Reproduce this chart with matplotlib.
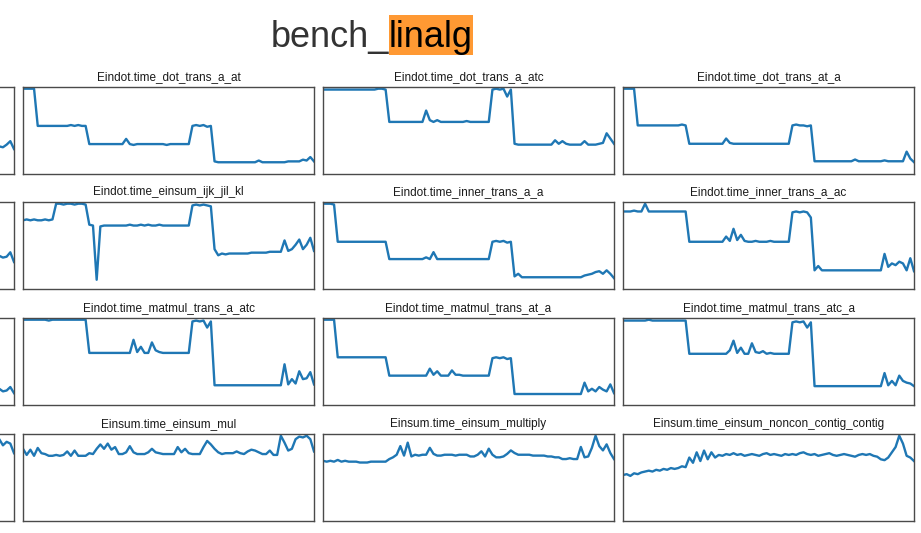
import numpy as np
import matplotlib
matplotlib.use("Agg")
import matplotlib.pyplot as plt
from matplotlib.patches import Rectangle

plt.rcParams['font.family'] = ['Liberation Sans', 'DejaVu Sans']

W, H = 921, 533

# benchmark names, row by row; the first column is cut off by the page edge,
# its titles are off-page and not drawn
names = [
    ["", "Eindot.time_dot_trans_a_at",
     "Eindot.time_dot_trans_a_atc", "Eindot.time_dot_trans_at_a"],
    ["", "Eindot.time_einsum_ijk_jil_kl",
     "Eindot.time_inner_trans_a_a", "Eindot.time_inner_trans_a_ac"],
    ["", "Eindot.time_matmul_trans_a_atc",
     "Eindot.time_matmul_trans_at_a", "Eindot.time_matmul_trans_atc_a"],
    ["", "Einsum.time_einsum_mul",
     "Einsum.time_einsum_multiply", "Einsum.time_einsum_noncon_contig_contig"],
]

# relative timings (% of slowest run), one value per commit
dot_d_dot_b_c = [97, 97, 97, 97, 55, 55, 56, 55, 55, 55, 55, 56, 55, 55, 55, 55, 55, 55,
                 34, 34, 34, 34, 34, 34, 34, 34, 34, 34, 39, 34, 34, 34, 34, 34, 34, 34, 34, 34,
                 34, 34, 34, 34, 34, 34, 34, 34,
                 55, 56, 55, 56, 54, 55,
                 28, 28, 28, 28, 28, 28, 28, 28, 28, 29, 28, 28, 28, 28, 28, 28, 28, 28, 28, 29,
                 28, 29, 30, 31, 30, 33, 37, 28]
dot_trans_a_at = [98, 98, 98, 98,
                  55, 55, 55, 55, 55, 55, 55, 55, 55, 56, 55, 56, 55, 55,
                  34, 34, 34, 34, 34, 34, 34, 34, 34, 34, 40, 34, 33, 34, 34, 34, 34, 34, 34, 34,
                  34, 33, 34, 34, 34, 34, 34, 34,
                  55, 56, 55, 56, 54, 55,
                  14, 13, 13, 13, 13, 13, 13, 13, 13, 13, 13, 13, 15, 13, 13, 13, 13, 13, 13, 13,
                  14, 14, 14, 14, 16, 15, 19, 14]
dot_trans_a_atc = [96, 96, 96, 96, 96, 96, 96, 96, 96, 96, 96, 96, 96, 96, 96, 97, 97, 96,
                   59, 59, 59, 59, 59, 59, 59, 59, 59, 59, 72, 61, 59, 61, 59, 59, 59, 59, 59, 59,
                   59, 60, 59, 59, 59, 59, 59, 59,
                   96, 97, 96, 97, 88, 96,
                   34, 33, 33, 33, 33, 33, 33, 33, 33, 33, 33, 38, 34, 37, 34, 33, 33, 33, 33, 37,
                   33, 33, 33, 34, 35, 46, 40, 34]
dot_trans_at_a = [97, 97, 97, 97,
                  55, 55, 55, 55, 55, 55, 55, 55, 55, 55, 55, 55, 56, 55,
                  34, 34, 34, 34, 34, 34, 34, 34, 34, 34, 40, 35, 34, 34, 34, 34, 34, 34, 34, 34,
                  34, 34, 34, 34, 34, 34, 34, 34,
                  55, 56, 55, 55, 54, 55,
                  14, 14, 14, 14, 14, 14, 14, 14, 14, 14, 14, 16, 14, 14, 14, 14, 14, 14, 14, 15,
                  14, 14, 14, 14, 14, 25, 17, 13]

einsum_ij_jk_a_b = [90, 90, 91, 90, 90, 90, 90, 91, 90, 90, 90, 90, 90, 91, 90, 90, 90, 90,
                    61, 61, 61, 61, 61, 61, 61, 62, 61, 61, 61, 61, 61, 61, 61, 61, 61, 61, 61, 62,
                    61, 61, 61, 61, 61, 61, 61, 61,
                    95, 96, 95, 96, 95, 95,
                    36, 35, 35, 35, 35, 35, 35, 35, 35, 35, 35, 35, 35, 35, 35, 35, 35, 36, 35, 35,
                    36, 35, 36, 37, 35, 36, 41, 30]
einsum_ijk_jil_kl = [78, 79, 78, 79, 78, 78, 79, 78, 79,
                     97, 97, 96, 97, 97, 96, 97, 97, 96,
                     73, 72, 10,
                     71, 72, 72, 72, 72, 72, 72, 72, 73, 72, 72, 73, 72, 73, 72, 72, 73, 72, 72,
                     72, 72, 72, 72, 72, 72,
                     95, 96, 95, 96, 95, 94,
                     45, 38, 40, 39, 40, 40, 40, 40, 40, 40, 41, 41, 41, 41, 41, 42, 42, 42, 42, 55,
                     43, 45, 50, 56, 45, 50, 58, 43]
inner_trans_a_a = [98, 98, 98, 97,
                   54, 54, 54, 54, 54, 54, 54, 54, 54, 54, 54, 54, 54, 54,
                   34, 34, 34, 34, 34, 34, 34, 34, 34, 34, 36, 34, 42, 34, 34, 34, 34, 34, 34, 34,
                   34, 34, 34, 34, 34, 34, 34, 34,
                   54, 55, 54, 55, 53, 54,
                   14, 17, 13, 13, 13, 13, 13, 13, 13, 13, 13, 13, 13, 13, 13, 13, 13, 13, 13, 15,
                   16, 17, 19, 20, 17, 21, 17, 12]
inner_trans_a_ac = [89, 89, 89, 90, 89, 89, 98, 89, 89, 89, 89, 89, 89, 89, 89, 89, 89, 89,
                    54, 54, 54, 54, 54, 54, 54, 54, 54, 54, 60, 55, 69, 56, 62, 55, 54, 54, 55, 54,
                    54, 54, 55, 54, 54, 54, 54, 54,
                    88, 89, 88, 89, 88, 82,
                    21, 26, 21, 21, 21, 21, 21, 21, 21, 21, 21, 21, 21, 21, 21, 21, 21, 21, 21, 40,
                    25, 29, 27, 31, 29, 21, 35, 20]

matmul_trans_a_at = [97, 97, 97, 97,
                     54, 54, 54, 54, 54, 54, 54, 54, 54, 54, 54, 54, 54, 54,
                     33, 33, 33, 33, 33, 33, 33, 33, 33, 33, 33, 36, 33, 33, 33, 33, 33, 33, 33, 33,
                     33, 33, 33, 33, 33, 33, 33, 33,
                     54, 55, 54, 55, 53, 54,
                     13, 13, 13, 13, 13, 13, 13, 13, 13, 13, 13, 13, 13, 13, 13, 14, 13, 13, 13, 13,
                     13, 14, 13, 18, 15, 16, 20, 13]
matmul_trans_a_atc = [97, 97, 97, 97, 97, 97, 97, 96, 97, 97, 97, 97, 97, 97, 97, 97, 97, 97,
                      59, 59, 59, 59, 59, 59, 59, 59, 59, 59, 59, 59, 74, 60, 66, 59, 59, 71, 62, 60,
                      59, 59, 59, 59, 59, 59, 59, 59,
                      95, 96, 95, 96, 88, 95,
                      22, 22, 22, 22, 22, 22, 22, 22, 22, 22, 22, 22, 22, 22, 22, 22, 22, 22, 22, 46,
                      23, 29, 24, 38, 29, 30, 37, 23]
matmul_trans_at_a = [97, 97, 97, 97,
                     54, 54, 54, 54, 54, 54, 54, 54, 54, 54, 54, 54, 54, 54,
                     33, 33, 33, 33, 33, 33, 33, 33, 33, 33, 33, 41, 34, 38, 33, 33, 33, 39, 34, 34,
                     33, 33, 33, 33, 33, 33, 33, 33,
                     53, 54, 53, 54, 52, 53,
                     12, 12, 12, 12, 12, 12, 12, 12, 12, 12, 12, 12, 12, 12, 12, 12, 12, 12, 12, 25,
                     15, 18, 15, 20, 17, 15, 23, 13]
matmul_trans_atc_a = [96, 96, 96, 96, 96, 96, 96, 97, 96, 96, 96, 96, 96, 96, 96, 96, 96, 96,
                      58, 58, 58, 58, 58, 58, 58, 58, 58, 58, 58, 62, 73, 59, 65, 58, 58, 70, 60, 59,
                      61, 58, 59, 58, 58, 58, 58, 58,
                      94, 95, 94, 95, 88, 94,
                      21, 21, 21, 21, 21, 21, 21, 21, 21, 21, 21, 21, 21, 21, 21, 21, 21, 21, 21, 36,
                      22, 27, 22, 33, 27, 25, 24, 21]

einsum_contig_outstride0 = [85, 80, 86, 82, 84, 81, 83, 80, 82, 84, 81, 83, 82, 80, 85, 82, 83, 81, 82, 84,
                            86, 84, 88, 85, 83, 82, 84, 86, 83, 85, 84, 82, 83, 85, 84, 86, 85, 83, 84, 82,
                            83, 85, 84, 86, 88, 85, 84, 83, 85, 86, 97, 90, 86, 84, 85, 83, 84, 86, 85, 84,
                            83, 85, 86, 84, 85, 87, 86, 84, 85, 86, 87, 85, 88, 86, 90, 93, 86, 90, 88, 77]
einsum_mul = [82, 75, 81, 74, 83, 77, 76, 74, 74, 75, 74, 75, 79, 74, 80, 74, 74, 74, 77, 76,
              82, 87, 82, 88, 81, 84, 76, 76, 78, 85, 78, 76, 76, 76, 78, 82, 78, 77, 76, 76,
              76, 76, 84, 78, 82, 77, 76, 76, 76, 84, 91, 87, 82, 78, 76, 77, 77, 77, 79, 77,
              76, 79, 81, 80, 78, 76, 76, 80, 75, 75, 97, 89, 80, 82, 93, 96, 95, 97, 93, 79]
einsum_multiply = [69, 68, 69, 68, 70, 68, 69, 68, 68, 68, 67, 67, 67, 68, 68, 68, 68, 68, 71, 73,
                   76, 86, 75, 90, 74, 76, 75, 76, 76, 84, 77, 75, 75, 76, 76, 76, 75, 76, 76, 76,
                   74, 74, 76, 80, 74, 83, 76, 73, 73, 74, 77, 81, 78, 76, 76, 76, 76, 75, 75, 75,
                   75, 74, 74, 73, 73, 71, 71, 72, 71, 71, 85, 73, 74, 84, 98, 86, 81, 88, 78, 71]
einsum_noncon = [52, 53, 51, 54, 53, 55,
                 56, 57, 56, 58, 57, 59, 58, 60, 59,
                 60, 62, 61, 72, 66, 78, 68, 80, 70, 78, 72,
                 75, 74, 76, 75, 77, 75, 76, 74, 75, 76, 75, 74, 76, 77, 75, 76, 75, 74, 76, 75,
                 76, 75, 77, 78, 76, 75, 76, 74, 75, 76, 77, 75, 74, 75, 76, 75, 74, 73, 75, 76,
                 75, 76, 74, 73, 70, 69, 72, 78, 84, 97, 88, 74, 72, 68]

series = [
    [dot_d_dot_b_c, dot_trans_a_at, dot_trans_a_atc, dot_trans_at_a],
    [einsum_ij_jk_a_b, einsum_ijk_jil_kl, inner_trans_a_a, inner_trans_a_ac],
    [matmul_trans_a_at, matmul_trans_a_atc, matmul_trans_at_a, matmul_trans_atc_a],
    [einsum_contig_outstride0, einsum_mul, einsum_multiply, einsum_noncon],
]

fig = plt.figure(figsize=(W / 100, H / 100), dpi=100)

# layout in pixels of the page
col_left = [-277, 23, 323, 623]
row_top = [87, 202, 318, 434]
ax_w, ax_h = 291, 86.5

for r in range(4):
    for c in range(4):
        vals = series[r][c]
        ax = fig.add_axes([col_left[c] / W, 1 - (row_top[r] + ax_h) / H, ax_w / W, ax_h / H])
        ax.plot(np.arange(len(vals)), vals, color='#1f77b4', lw=1.7)
        ax.set_xlim(0, len(vals) - 1)
        ax.set_ylim(0, max(vals) * 1.02)
        ax.set_xticks([])
        ax.set_yticks([])
        for s in ax.spines.values():
            s.set_color('#4a4a4a')
            s.set_linewidth(1.0)
        if names[r][c]:
            ax.set_title(names[r][c], fontsize=8.5, pad=5, color='#1a1a1a')

# page heading, with "linalg" highlighted
fs = 26
fig.text(389 / W, 1 - 47 / H, 'bench_', ha='right', va='baseline', fontsize=fs, color='#333333')
hl = fig.text(389 / W, 1 - 47 / H, 'linalg', ha='left', va='baseline', fontsize=fs,
              color='black', zorder=3)
fig.canvas.draw()
bb = hl.get_window_extent()
em = fs * fig.dpi / 72
fig.patches.append(Rectangle((bb.x0, bb.y0), bb.width, 1.117 * em, transform=None,
                             facecolor='#ff9933', edgecolor='none', zorder=1))

fig.savefig('out.png', dpi=100)
